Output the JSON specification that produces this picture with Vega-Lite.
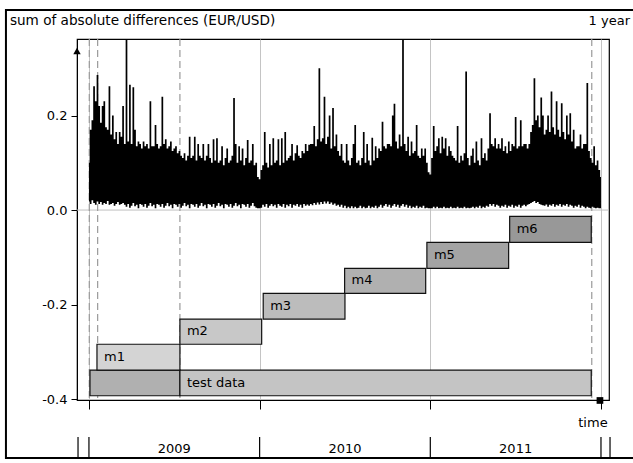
{
  "$schema": "https://vega.github.io/schema/vega-lite/v6.json",
  "width": 532,
  "height": 361,
  "autosize": {"type": "none"},
  "padding": {"left": 77, "top": 39, "right": 24, "bottom": 63},
  "background": "white",
  "view": {"stroke": "#000", "strokeWidth": 1.2},
  "config": {
    "view": {"stroke": "#000", "strokeWidth": 1.2},
    "font": "DejaVu Sans",
    "text": {"font": "DejaVu Sans", "fontSize": 13, "color": "#000", "baseline": "middle"}
  },
  "data": {"values": [{}]},
  "datasets": {
    "series": [
      {"x":2009.00,"l":0.018,"h":0.1},{"x":2009.01,"l":0.013,"h":0.17},{"x":2009.02,"l":0.021,"h":0.19},{"x":2009.03,"l":0.015,"h":0.262},{"x":2009.04,"l":0.011,"h":0.23},
      {"x":2009.05,"l":0.018,"h":0.286},{"x":2009.06,"l":0.013,"h":0.22},{"x":2009.07,"l":0.017,"h":0.185},{"x":2009.08,"l":0.011,"h":0.22},{"x":2009.09,"l":0.015,"h":0.23},
      {"x":2009.10,"l":0.013,"h":0.175},{"x":2009.11,"l":0.019,"h":0.17},{"x":2009.12,"l":0.011,"h":0.262},{"x":2009.13,"l":0.013,"h":0.16},{"x":2009.14,"l":0.015,"h":0.2},
      {"x":2009.15,"l":0.009,"h":0.15},{"x":2009.16,"l":0.013,"h":0.165},{"x":2009.17,"l":0.017,"h":0.14},{"x":2009.18,"l":0.011,"h":0.165},{"x":2009.19,"l":0.013,"h":0.155},
      {"x":2009.20,"l":0.015,"h":0.22},{"x":2009.21,"l":0.011,"h":0.14},{"x":2009.22,"l":0.007,"h":0.36},{"x":2009.23,"l":0.013,"h":0.145},{"x":2009.24,"l":0.005,"h":0.265},
      {"x":2009.25,"l":0.009,"h":0.14},{"x":2009.26,"l":0.015,"h":0.26},{"x":2009.27,"l":0.008,"h":0.17},{"x":2009.28,"l":0.011,"h":0.135},{"x":2009.29,"l":0.004,"h":0.145},
      {"x":2009.30,"l":0.013,"h":0.14},{"x":2009.31,"l":0.011,"h":0.13},{"x":2009.32,"l":0.007,"h":0.145},{"x":2009.33,"l":0.013,"h":0.135},{"x":2009.34,"l":0.005,"h":0.14},
      {"x":2009.35,"l":0.009,"h":0.13},{"x":2009.36,"l":0.015,"h":0.23},{"x":2009.37,"l":0.008,"h":0.135},{"x":2009.38,"l":0.011,"h":0.135},{"x":2009.39,"l":0.004,"h":0.18},
      {"x":2009.40,"l":0.013,"h":0.14},{"x":2009.41,"l":0.011,"h":0.13},{"x":2009.42,"l":0.007,"h":0.135},{"x":2009.43,"l":0.013,"h":0.24},{"x":2009.44,"l":0.005,"h":0.14},
      {"x":2009.45,"l":0.009,"h":0.15},{"x":2009.46,"l":0.015,"h":0.13},{"x":2009.47,"l":0.008,"h":0.135},{"x":2009.48,"l":0.011,"h":0.145},{"x":2009.49,"l":0.004,"h":0.125},
      {"x":2009.50,"l":0.013,"h":0.13},{"x":2009.51,"l":0.011,"h":0.135},{"x":2009.52,"l":0.007,"h":0.12},{"x":2009.53,"l":0.013,"h":0.125},{"x":2009.54,"l":0.005,"h":0.115},
      {"x":2009.55,"l":0.009,"h":0.11},{"x":2009.56,"l":0.015,"h":0.12},{"x":2009.57,"l":0.008,"h":0.105},{"x":2009.58,"l":0.011,"h":0.115},{"x":2009.59,"l":0.004,"h":0.155},
      {"x":2009.60,"l":0.013,"h":0.11},{"x":2009.61,"l":0.011,"h":0.115},{"x":2009.62,"l":0.007,"h":0.155},{"x":2009.63,"l":0.013,"h":0.105},{"x":2009.64,"l":0.005,"h":0.14},
      {"x":2009.65,"l":0.009,"h":0.115},{"x":2009.66,"l":0.015,"h":0.11},{"x":2009.67,"l":0.008,"h":0.14},{"x":2009.68,"l":0.011,"h":0.105},{"x":2009.69,"l":0.004,"h":0.115},
      {"x":2009.70,"l":0.013,"h":0.14},{"x":2009.71,"l":0.011,"h":0.11},{"x":2009.72,"l":0.007,"h":0.1},{"x":2009.73,"l":0.013,"h":0.15},{"x":2009.74,"l":0.005,"h":0.105},
      {"x":2009.75,"l":0.009,"h":0.152},{"x":2009.76,"l":0.015,"h":0.1},{"x":2009.77,"l":0.008,"h":0.105},{"x":2009.78,"l":0.011,"h":0.135},{"x":2009.79,"l":0.004,"h":0.095},
      {"x":2009.80,"l":0.013,"h":0.11},{"x":2009.81,"l":0.011,"h":0.13},{"x":2009.82,"l":0.007,"h":0.1},{"x":2009.83,"l":0.013,"h":0.105},{"x":2009.84,"l":0.005,"h":0.115},
      {"x":2009.85,"l":0.009,"h":0.237},{"x":2009.86,"l":0.015,"h":0.14},{"x":2009.87,"l":0.008,"h":0.1},{"x":2009.88,"l":0.011,"h":0.135},{"x":2009.89,"l":0.004,"h":0.105},
      {"x":2009.90,"l":0.013,"h":0.13},{"x":2009.91,"l":0.011,"h":0.095},{"x":2009.92,"l":0.007,"h":0.11},{"x":2009.93,"l":0.013,"h":0.148},{"x":2009.94,"l":0.005,"h":0.1},
      {"x":2009.95,"l":0.009,"h":0.105},{"x":2009.96,"l":0.015,"h":0.14},{"x":2009.97,"l":0.008,"h":0.095},{"x":2009.98,"l":0.005,"h":0.1},{"x":2009.99,"l":0.004,"h":0.07},
      {"x":2010.00,"l":0.004,"h":0.065},{"x":2010.01,"l":0.005,"h":0.085},{"x":2010.02,"l":0.011,"h":0.095},{"x":2010.03,"l":0.007,"h":0.165},{"x":2010.04,"l":0.013,"h":0.1},
      {"x":2010.05,"l":0.005,"h":0.09},{"x":2010.06,"l":0.009,"h":0.14},{"x":2010.07,"l":0.013,"h":0.095},{"x":2010.08,"l":0.008,"h":0.152},{"x":2010.09,"l":0.011,"h":0.1},
      {"x":2010.10,"l":0.005,"h":0.105},{"x":2010.11,"l":0.013,"h":0.15},{"x":2010.12,"l":0.009,"h":0.095},{"x":2010.13,"l":0.007,"h":0.152},{"x":2010.14,"l":0.013,"h":0.1},
      {"x":2010.15,"l":0.005,"h":0.165},{"x":2010.16,"l":0.011,"h":0.105},{"x":2010.17,"l":0.008,"h":0.11},{"x":2010.18,"l":0.013,"h":0.115},{"x":2010.19,"l":0.005,"h":0.14},
      {"x":2010.20,"l":0.011,"h":0.105},{"x":2010.21,"l":0.009,"h":0.12},{"x":2010.22,"l":0.013,"h":0.137},{"x":2010.23,"l":0.007,"h":0.115},{"x":2010.24,"l":0.011,"h":0.11},
      {"x":2010.25,"l":0.005,"h":0.125},{"x":2010.26,"l":0.013,"h":0.12},{"x":2010.27,"l":0.009,"h":0.14},{"x":2010.28,"l":0.012,"h":0.125},{"x":2010.29,"l":0.009,"h":0.138},
      {"x":2010.30,"l":0.013,"h":0.14},{"x":2010.31,"l":0.01,"h":0.14},{"x":2010.32,"l":0.015,"h":0.178},{"x":2010.33,"l":0.011,"h":0.135},{"x":2010.34,"l":0.016,"h":0.15},
      {"x":2010.35,"l":0.012,"h":0.3},{"x":2010.36,"l":0.017,"h":0.145},{"x":2010.37,"l":0.013,"h":0.152},{"x":2010.38,"l":0.018,"h":0.24},{"x":2010.39,"l":0.014,"h":0.14},
      {"x":2010.40,"l":0.018,"h":0.155},{"x":2010.41,"l":0.013,"h":0.2},{"x":2010.42,"l":0.016,"h":0.13},{"x":2010.43,"l":0.011,"h":0.216},{"x":2010.44,"l":0.014,"h":0.135},
      {"x":2010.45,"l":0.009,"h":0.16},{"x":2010.46,"l":0.011,"h":0.125},{"x":2010.47,"l":0.007,"h":0.115},{"x":2010.48,"l":0.011,"h":0.14},{"x":2010.49,"l":0.005,"h":0.105},
      {"x":2010.50,"l":0.009,"h":0.1},{"x":2010.51,"l":0.004,"h":0.14},{"x":2010.52,"l":0.007,"h":0.105},{"x":2010.53,"l":0.004,"h":0.095},{"x":2010.54,"l":0.008,"h":0.11},
      {"x":2010.55,"l":0.004,"h":0.14},{"x":2010.56,"l":0.007,"h":0.18},{"x":2010.57,"l":0.004,"h":0.1},{"x":2010.58,"l":0.005,"h":0.105},{"x":2010.59,"l":0.009,"h":0.095},
      {"x":2010.60,"l":0.004,"h":0.11},{"x":2010.61,"l":0.007,"h":0.165},{"x":2010.62,"l":0.004,"h":0.1},{"x":2010.63,"l":0.005,"h":0.14},{"x":2010.64,"l":0.009,"h":0.105},
      {"x":2010.65,"l":0.004,"h":0.095},{"x":2010.66,"l":0.007,"h":0.153},{"x":2010.67,"l":0.005,"h":0.105},{"x":2010.68,"l":0.009,"h":0.135},{"x":2010.69,"l":0.004,"h":0.11},
      {"x":2010.70,"l":0.007,"h":0.13},{"x":2010.71,"l":0.011,"h":0.125},{"x":2010.72,"l":0.005,"h":0.187},{"x":2010.73,"l":0.009,"h":0.135},{"x":2010.74,"l":0.013,"h":0.13},
      {"x":2010.75,"l":0.007,"h":0.14},{"x":2010.76,"l":0.011,"h":0.14},{"x":2010.77,"l":0.005,"h":0.135},{"x":2010.78,"l":0.009,"h":0.2},{"x":2010.79,"l":0.013,"h":0.225},
      {"x":2010.80,"l":0.007,"h":0.145},{"x":2010.81,"l":0.011,"h":0.13},{"x":2010.82,"l":0.005,"h":0.16},{"x":2010.83,"l":0.009,"h":0.135},{"x":2010.84,"l":0.013,"h":0.36},
      {"x":2010.85,"l":0.007,"h":0.14},{"x":2010.86,"l":0.011,"h":0.125},{"x":2010.87,"l":0.005,"h":0.155},{"x":2010.88,"l":0.009,"h":0.115},{"x":2010.89,"l":0.004,"h":0.145},
      {"x":2010.90,"l":0.007,"h":0.12},{"x":2010.91,"l":0.005,"h":0.125},{"x":2010.92,"l":0.009,"h":0.18},{"x":2010.93,"l":0.004,"h":0.115},{"x":2010.94,"l":0.007,"h":0.11},
      {"x":2010.95,"l":0.005,"h":0.13},{"x":2010.96,"l":0.009,"h":0.115},{"x":2010.97,"l":0.004,"h":0.13},{"x":2010.98,"l":0.005,"h":0.1},{"x":2010.99,"l":0.004,"h":0.08},
      {"x":2011.00,"l":0.004,"h":0.075},{"x":2011.01,"l":0.004,"h":0.11},{"x":2011.02,"l":0.007,"h":0.178},{"x":2011.03,"l":0.004,"h":0.125},{"x":2011.04,"l":0.007,"h":0.135},
      {"x":2011.05,"l":0.004,"h":0.152},{"x":2011.06,"l":0.005,"h":0.12},{"x":2011.07,"l":0.004,"h":0.155},{"x":2011.08,"l":0.007,"h":0.13},{"x":2011.09,"l":0.004,"h":0.152},
      {"x":2011.10,"l":0.005,"h":0.115},{"x":2011.11,"l":0.004,"h":0.135},{"x":2011.12,"l":0.007,"h":0.125},{"x":2011.13,"l":0.004,"h":0.115},{"x":2011.14,"l":0.005,"h":0.11},
      {"x":2011.15,"l":0.004,"h":0.105},{"x":2011.16,"l":0.007,"h":0.178},{"x":2011.17,"l":0.004,"h":0.1},{"x":2011.18,"l":0.005,"h":0.115},{"x":2011.19,"l":0.004,"h":0.105},
      {"x":2011.20,"l":0.007,"h":0.12},{"x":2011.21,"l":0.004,"h":0.293},{"x":2011.22,"l":0.005,"h":0.11},{"x":2011.23,"l":0.004,"h":0.095},{"x":2011.24,"l":0.005,"h":0.115},
      {"x":2011.25,"l":0.007,"h":0.13},{"x":2011.26,"l":0.004,"h":0.1},{"x":2011.27,"l":0.007,"h":0.145},{"x":2011.28,"l":0.005,"h":0.105},{"x":2011.29,"l":0.009,"h":0.095},
      {"x":2011.30,"l":0.004,"h":0.152},{"x":2011.31,"l":0.007,"h":0.11},{"x":2011.32,"l":0.005,"h":0.12},{"x":2011.33,"l":0.009,"h":0.105},{"x":2011.34,"l":0.007,"h":0.13},
      {"x":2011.35,"l":0.013,"h":0.205},{"x":2011.36,"l":0.009,"h":0.14},{"x":2011.37,"l":0.013,"h":0.135},{"x":2011.38,"l":0.007,"h":0.152},{"x":2011.39,"l":0.011,"h":0.13},
      {"x":2011.40,"l":0.009,"h":0.14},{"x":2011.41,"l":0.005,"h":0.13},{"x":2011.42,"l":0.009,"h":0.152},{"x":2011.43,"l":0.007,"h":0.125},{"x":2011.44,"l":0.011,"h":0.135},
      {"x":2011.45,"l":0.005,"h":0.12},{"x":2011.46,"l":0.009,"h":0.145},{"x":2011.47,"l":0.007,"h":0.125},{"x":2011.48,"l":0.011,"h":0.14},{"x":2011.49,"l":0.005,"h":0.135},
      {"x":2011.50,"l":0.009,"h":0.197},{"x":2011.51,"l":0.007,"h":0.13},{"x":2011.52,"l":0.011,"h":0.135},{"x":2011.53,"l":0.005,"h":0.19},{"x":2011.54,"l":0.009,"h":0.135},
      {"x":2011.55,"l":0.011,"h":0.14},{"x":2011.56,"l":0.008,"h":0.14},{"x":2011.57,"l":0.011,"h":0.13},{"x":2011.58,"l":0.013,"h":0.14},{"x":2011.59,"l":0.015,"h":0.165},
      {"x":2011.60,"l":0.017,"h":0.18},{"x":2011.61,"l":0.019,"h":0.279},{"x":2011.62,"l":0.015,"h":0.19},{"x":2011.63,"l":0.017,"h":0.2},{"x":2011.64,"l":0.013,"h":0.175},
      {"x":2011.65,"l":0.011,"h":0.238},{"x":2011.66,"l":0.01,"h":0.2},{"x":2011.67,"l":0.009,"h":0.16},{"x":2011.68,"l":0.012,"h":0.17},{"x":2011.69,"l":0.007,"h":0.2},
      {"x":2011.70,"l":0.011,"h":0.165},{"x":2011.71,"l":0.009,"h":0.251},{"x":2011.72,"l":0.013,"h":0.175},{"x":2011.73,"l":0.007,"h":0.16},{"x":2011.74,"l":0.011,"h":0.23},
      {"x":2011.75,"l":0.009,"h":0.17},{"x":2011.76,"l":0.013,"h":0.155},{"x":2011.77,"l":0.007,"h":0.226},{"x":2011.78,"l":0.011,"h":0.165},{"x":2011.79,"l":0.009,"h":0.15},
      {"x":2011.80,"l":0.013,"h":0.2},{"x":2011.81,"l":0.007,"h":0.16},{"x":2011.82,"l":0.011,"h":0.205},{"x":2011.83,"l":0.009,"h":0.145},{"x":2011.84,"l":0.005,"h":0.17},
      {"x":2011.85,"l":0.009,"h":0.13},{"x":2011.86,"l":0.007,"h":0.135},{"x":2011.87,"l":0.011,"h":0.135},{"x":2011.88,"l":0.005,"h":0.16},{"x":2011.89,"l":0.009,"h":0.13},
      {"x":2011.90,"l":0.007,"h":0.14},{"x":2011.91,"l":0.004,"h":0.14},{"x":2011.92,"l":0.007,"h":0.269},{"x":2011.93,"l":0.005,"h":0.125},{"x":2011.94,"l":0.004,"h":0.11},
      {"x":2011.95,"l":0.007,"h":0.1},{"x":2011.96,"l":0.005,"h":0.135},{"x":2011.97,"l":0.004,"h":0.095},{"x":2011.98,"l":0.005,"h":0.105},{"x":2011.99,"l":0.004,"h":0.085},
      {"x":2012.00,"l":0.004,"h":0.07}
    ],
    "boxes": [
      {"n":"train","a":2009.006,"b":2009.533,"lo":-0.393,"hi":-0.3386},
      {"n":"test data","a":2009.533,"b":2011.943,"lo":-0.393,"hi":-0.3386},
      {"n":"m1","a":2009.047,"b":2009.533,"lo":-0.3386,"hi":-0.284},
      {"n":"m2","a":2009.533,"b":2010.012,"lo":-0.284,"hi":-0.2307},
      {"n":"m3","a":2010.021,"b":2010.5,"lo":-0.2307,"hi":-0.1764},
      {"n":"m4","a":2010.498,"b":2010.973,"lo":-0.1764,"hi":-0.1235},
      {"n":"m5","a":2010.98,"b":2011.459,"lo":-0.1235,"hi":-0.0684},
      {"n":"m6","a":2011.465,"b":2011.943,"lo":-0.0684,"hi":-0.0133}
    ],
    "markers": [{"x":2009.002},{"x":2009.051},{"x":2009.533},{"x":2011.946}],
    "leftLabels": [
      {"x":2008.537,"y":0.4,"t":"sum of absolute differences (EUR/USD)"}
    ],
    "rightLabels": [
      {"x":2012.17,"y":0.4,"t":"1 year"}
    ],
    "centerLabels": [
      {"x":2009.5,"y":-0.5058,"t":"2009"},
      {"x":2010.5,"y":-0.5058,"t":"2010"},
      {"x":2011.5,"y":-0.5058,"t":"2011"},
      {"x":2011.953,"y":-0.4497,"t":"time"}
    ],
    "bandTicks": [{"x":2008.936},{"x":2009},{"x":2010},{"x":2011},{"x":2012},{"x":2012.053}]
  },
  "layer": [
    {
      "mark": {"type": "rule", "color": "#c0c0c0", "strokeWidth": 1},
      "encoding": {"y": {"datum": 0, "type": "quantitative"}}
    },
    {
      "data": {"name": "markers"},
      "mark": {"type": "rule", "color": "#9a9a9a", "strokeWidth": 1.2, "strokeDash": [7, 4]},
      "encoding": {"x": {"field": "x", "type": "quantitative"}}
    },
    {
      "data": {"name": "series"},
      "mark": {"type": "area", "color": "#000", "interpolate": "step", "opacity": 1},
      "encoding": {
        "x": {
          "field": "x", "type": "quantitative",
          "scale": {"domain": [2008.93, 2012.047], "nice": false, "zero": false},
          "axis": {"values": [2009, 2010, 2011, 2012], "labels": false, "title": null, "tickSize": 9, "tickColor": "#000", "domainColor": "#000", "grid": true, "gridColor": "#c4c4c4", "gridWidth": 1}
        },
        "y": {
          "field": "l", "type": "quantitative",
          "scale": {"domain": [-0.402, 0.362], "nice": false, "zero": false},
          "axis": {"values": [-0.4, -0.2, 0, 0.2], "format": ".1f", "labelExpr": "replace(datum.label, '−', '-')", "title": null, "tickSize": 6, "tickColor": "#000", "domainColor": "#000", "grid": false, "labelFontSize": 13, "labelFont": "DejaVu Sans", "labelColor": "#000", "labelPadding": 4}
        },
        "y2": {"field": "h"}
      }
    },
    {
      "data": {"name": "boxes"},
      "mark": {"type": "rect", "stroke": "#111", "strokeWidth": 1.2, "opacity": 1},
      "encoding": {
        "x": {"field": "a", "type": "quantitative"},
        "x2": {"field": "b"},
        "y": {"field": "lo", "type": "quantitative"},
        "y2": {"field": "hi"},
        "color": {
          "field": "n", "type": "nominal", "legend": null,
          "scale": {"domain": ["train", "test data", "m1", "m2", "m3", "m4", "m5", "m6"], "range": ["#b0b0b0", "#c4c4c4", "#d4d4d4", "#c8c8c8", "#bcbcbc", "#b0b0b0", "#a4a4a4", "#989898"]}
        }
      }
    },
    {
      "data": {"name": "boxes"},
      "transform": [{"filter": "datum.n != 'train'"}],
      "mark": {"type": "text", "align": "left", "baseline": "middle", "dx": 7, "dy": -13, "fontSize": 13, "color": "#000"},
      "encoding": {
        "x": {"field": "a", "type": "quantitative"},
        "y": {"field": "lo", "type": "quantitative"},
        "text": {"field": "n"}
      }
    },
    {
      "data": {"name": "leftLabels"},
      "mark": {"type": "text", "align": "left", "baseline": "middle", "fontSize": 13.6, "color": "#000"},
      "encoding": {
        "x": {"field": "x", "type": "quantitative"},
        "y": {"field": "y", "type": "quantitative"},
        "text": {"field": "t"}
      }
    },
    {
      "data": {"name": "rightLabels"},
      "mark": {"type": "text", "align": "right", "baseline": "middle", "fontSize": 13, "color": "#000"},
      "encoding": {
        "x": {"field": "x", "type": "quantitative"},
        "y": {"field": "y", "type": "quantitative"},
        "text": {"field": "t"}
      }
    },
    {
      "data": {"name": "centerLabels"},
      "mark": {"type": "text", "align": "center", "baseline": "middle", "fontSize": 13, "color": "#000"},
      "encoding": {
        "x": {"field": "x", "type": "quantitative"},
        "y": {"field": "y", "type": "quantitative"},
        "text": {"field": "t"}
      }
    },
    {
      "data": {"name": "bandTicks"},
      "mark": {"type": "rule", "color": "#000", "strokeWidth": 1.2},
      "encoding": {
        "x": {"field": "x", "type": "quantitative"},
        "y": {"datum": -0.4804, "type": "quantitative"},
        "y2": {"datum": -0.525}
      }
    },
    {
      "mark": {"type": "rect", "filled": false, "color": "#000", "strokeWidth": 2, "opacity": 1},
      "encoding": {
        "x": {"datum": 2008.5137, "type": "quantitative"},
        "x2": {"datum": 2012.3},
        "y": {"datum": -0.5249, "type": "quantitative"},
        "y2": {"datum": 0.4233}
      }
    },
    {
      "mark": {"type": "point", "shape": "triangle-up", "size": 55, "filled": true, "color": "#000", "opacity": 1},
      "encoding": {
        "x": {"datum": 2008.93, "type": "quantitative"},
        "y": {"datum": 0.3365, "type": "quantitative"}
      }
    },
    {
      "mark": {"type": "point", "shape": "square", "size": 45, "filled": true, "color": "#000", "opacity": 1},
      "encoding": {
        "x": {"datum": 2011.994, "type": "quantitative"},
        "y": {"datum": -0.403, "type": "quantitative"}
      }
    }
  ]
}
